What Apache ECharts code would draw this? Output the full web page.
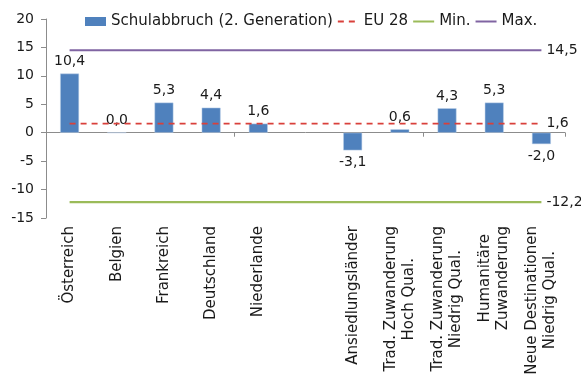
<!DOCTYPE html>
<html>
<head>
<meta charset="utf-8">
<script src="https://cdn.jsdelivr.net/npm/echarts@6/dist/echarts.min.js"></script>
<style>
  html, body { margin: 0; padding: 0; background: #fff; }
  #chart { width: 581px; height: 378px; }
</style>
</head>
<body>
<div id="chart"></div>
<script>
// Categories (an empty slot separates the countries from the groups)
const categories = [
  'Österreich', 'Belgien', 'Frankreich', 'Deutschland', 'Niederlande', '',
  'Ansiedlungsländer', 'Trad. Zuwanderung\nHoch Qual.', 'Trad. Zuwanderung\nNiedrig Qual.',
  'Humanitäre\nZuwanderung', 'Neue Destinationen\nNiedrig Qual.'
];
// Schulabbruch (2. Generation)
const dropout = [10.4, 0.0, 5.3, 4.4, 1.6, '-', -3.1, 0.6, 4.3, 5.3, -2.0];
// Reference levels
const eu28 = [1.6, 1.6, 1.6, 1.6, 1.6, 1.6, 1.6, 1.6, 1.6, 1.6, 1.6];
const minVals = [-12.2, -12.2, -12.2, -12.2, -12.2, -12.2, -12.2, -12.2, -12.2, -12.2, -12.2];
const maxVals = [14.5, 14.5, 14.5, 14.5, 14.5, 14.5, 14.5, 14.5, 14.5, 14.5, 14.5];
const yTicks = [-15, -10, -5, 0, 5, 10, 15, 20];

const FONT = 'DejaVu Sans';
const TXT = '#1a1a1a';
const TEXT_SIZE = 15;
const NUM_SIZE = 14;
const fmt = v => Number(v).toFixed(1).replace('.', ',');

// measure text so the shorter line of a two-line label sits centred under the longer one
const measureCtx = document.createElement('canvas').getContext('2d');
measureCtx.font = TEXT_SIZE + 'px "' + FONT + '"';
const textWidth = s => measureCtx.measureText(s).width;

function categoryLabel(v) {
  const lines = v.split('\n');
  if (lines.length < 2) return v;
  const widest = Math.max(...lines.map(textWidth));
  return lines.map(l => {
    const pad = Math.max(0, Math.round((widest - textWidth(l)) / 2));
    return '{p' + pad + '|' + l + '}';
  }).join('\n');
}
// rich styles for every padding amount used
const rich = {};
categories.forEach(c => {
  const lines = c.split('\n');
  if (lines.length < 2) return;
  const widest = Math.max(...lines.map(textWidth));
  lines.forEach(l => {
    const pad = Math.max(0, Math.round((widest - textWidth(l)) / 2));
    rich['p' + pad] = {
      fontFamily: FONT, fontSize: TEXT_SIZE, color: TXT, lineHeight: 18,
      padding: [0, pad, 0, 0]
    };
  });
});

const chart = echarts.init(document.getElementById('chart'), null, { renderer: 'canvas' });

function refLine(name, data, color, width, type) {
  return {
    name, type: 'line', data,
    symbol: 'none',
    lineStyle: { color, width, type },
    itemStyle: { color },
    z: 3,
    endLabel: {
      show: true,
      formatter: p => fmt(p.value),
      fontFamily: FONT, fontSize: NUM_SIZE, color: TXT,
      distance: 5
    }
  };
}

const hiddenSymbol = { opacity: 0 };

chart.setOption({
  animation: false,
  textStyle: { fontFamily: FONT },
  grid: { left: 46, right: 16, top: 19, bottom: 160, containLabel: false },
  legend: {
    left: 85, top: 14, padding: 0,
    itemWidth: 21, itemHeight: 9, itemGap: 4,
    textStyle: { fontFamily: FONT, fontSize: TEXT_SIZE, color: TXT },
    data: [
      { name: 'Schulabbruch (2. Generation)', icon: 'rect', itemStyle: { borderWidth: 0 } },
      { name: 'EU 28', itemStyle: hiddenSymbol },
      { name: 'Min.', itemStyle: hiddenSymbol },
      { name: 'Max.', itemStyle: hiddenSymbol }
    ]
  },
  xAxis: [
    {
      // zero line with category ticks
      type: 'category', data: categories, position: 'bottom',
      axisLine: { onZero: true, lineStyle: { color: '#8c8c8c', width: 1 } },
      axisTick: { show: true, length: 4, lineStyle: { color: '#8c8c8c' } },
      axisLabel: { show: false }
    },
    {
      // labels along the bottom edge
      type: 'category', data: categories, position: 'bottom',
      axisLine: { show: false, onZero: false },
      axisTick: { show: false },
      axisLabel: {
        show: true, interval: 0, rotate: 90, margin: 8,
        fontFamily: FONT, fontSize: TEXT_SIZE, color: TXT, lineHeight: 18,
        formatter: categoryLabel,
        rich
      }
    }
  ],
  yAxis: {
    type: 'value', min: yTicks[0], max: yTicks[yTicks.length - 1], interval: 5,
    axisLine: { show: true, lineStyle: { color: '#8c8c8c' } },
    axisTick: { show: true, length: 5, lineStyle: { color: '#8c8c8c' } },
    splitLine: { show: false },
    axisLabel: { fontFamily: FONT, fontSize: NUM_SIZE, color: TXT, margin: 12 }
  },
  series: [
    {
      name: 'Schulabbruch (2. Generation)', type: 'bar',
      // negative bars carry their label underneath
      data: dropout.map(v => (typeof v === 'number' && v < 0)
        ? { value: v, label: { position: 'bottom' } }
        : v),
      xAxisIndex: 0, barWidth: '40%',
      itemStyle: { color: '#4F81BD', borderColor: '#bcd0e8', borderWidth: 0.5 },
      label: {
        show: true,
        position: 'top', distance: 5,
        formatter: p => fmt(p.value),
        fontFamily: FONT, fontSize: NUM_SIZE, color: TXT
      },
      z: 2
    },
    refLine('EU 28', eu28, '#D9403B', 1.75, [6, 5]),
    refLine('Min.', minVals, '#9BBB59', 2.25, 'solid'),
    refLine('Max.', maxVals, '#8064A2', 2, 'solid')
  ]
});
</script>
</body>
</html>
